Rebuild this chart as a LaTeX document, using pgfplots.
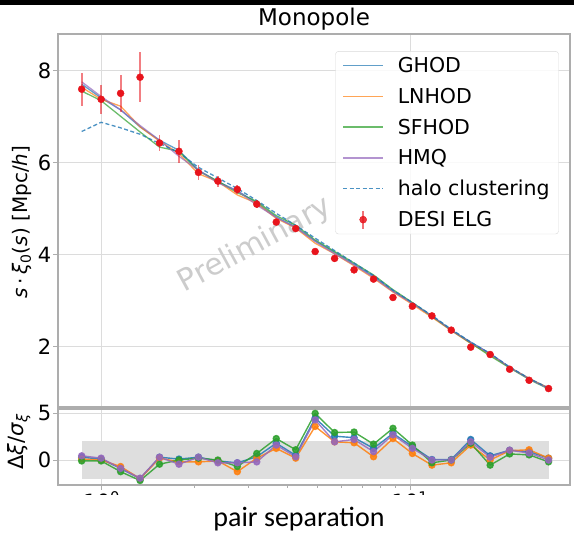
\documentclass[border=0pt]{standalone}
\usepackage{fontspec}
\setmainfont{DejaVu Sans}
\newfontfamily\capfont{Carlito}
\usepackage{pgfplots}
\usepackage{pgfplotstable}
\pgfplotsset{compat=1.18}

\definecolor{tabblue}{HTML}{1F77B4}
\definecolor{taborange}{HTML}{FF7F0E}
\definecolor{tabgreen}{HTML}{2CA02C}
\definecolor{tabpurple}{HTML}{9467BD}
\definecolor{elg}{HTML}{E8141C}
\definecolor{gridc}{HTML}{DCDCDC}
\definecolor{spine}{HTML}{ADADAD}
\definecolor{bandc}{HTML}{DEDEDE}

% s [Mpc/h], measured s*xi_0 with error, and the four model fits plus halo clustering
\pgfplotstableread{
s       y     e     ghod  lnhod sfhod hmq   halo
0.8612  7.60  0.36  7.71  7.64  7.56  7.76  6.68
0.9959  7.38  0.31  7.41  7.38  7.35  7.44  6.88
1.1517  7.51  0.40  7.15  7.23  7.01  7.15  6.76
1.3318  7.86  0.54  6.78  6.78  6.67  6.81  6.62
1.5402  6.43  0.18  6.49  6.47  6.34  6.49  6.42
1.7810  6.25  0.25  6.27  6.20  6.25  6.14  6.22
2.0596  5.79  0.16  5.84  5.76  5.82  5.84  5.90
2.3818  5.60  0.12  5.59  5.59  5.60  5.56  5.67
2.7542  5.42  0.10  5.39  5.30  5.35  5.39  5.44
3.1842  5.10  0.08  5.13  5.12  5.16  5.08  5.18
3.6833  4.71  0.06  4.82  4.79  4.85  4.81  4.90
4.2590  4.57  0.06  4.60  4.58  4.64  4.59  4.64
4.9249  4.07  0.05  4.30  4.25  4.32  4.29  4.36
5.6949  3.92  0.05  4.05  4.02  4.07  4.02  4.09
6.5857  3.67  0.05  3.79  3.76  3.82  3.78  3.82
7.6155  3.47  0.05  3.53  3.49  3.56  3.51  3.55
8.8066  3.07  0.05  3.21  3.19  3.24  3.20  3.23
10.18   2.88  0.05  2.95  2.92  2.96  2.94  2.96
11.78   2.67  0.05  2.67  2.64  2.66  2.67  2.68
13.61   2.36  0.05  2.36  2.35  2.36  2.36  2.38
15.74   1.99  0.05  2.10  2.07  2.08  2.09  2.10
18.20   1.83  0.05  1.85  1.83  1.80  1.85  1.85
21.05   1.51  0.04  1.55  1.55  1.54  1.55  1.56
24.34   1.27  0.04  1.31  1.31  1.29  1.30  1.31
28.15   1.09  0.04  1.10  1.10  1.08  1.09  1.10
}\monopole

% normalised residuals of each model
\pgfplotstableread{
s       rg     rl     rs     rh
0.8612  0.30   0.10  -0.10   0.45
0.9959  0.10   0.00  -0.10   0.20
1.1517 -0.90  -0.70  -1.25  -0.90
1.3318 -2.00  -2.00  -2.20  -1.95
1.5402  0.30   0.20  -0.45   0.30
1.7810  0.10  -0.20   0.00  -0.45
2.0596  0.30  -0.20   0.20   0.30
2.3818 -0.10  -0.10   0.00  -0.30
2.7542 -0.30  -1.25  -0.70  -0.30
3.1842  0.35   0.20   0.70  -0.20
3.6833  1.80   1.25   2.30   1.60
4.2590  0.50   0.20   1.10   0.35
4.9249  4.50   3.60   5.00   4.30
5.6949  2.55   1.95   2.95   1.95
6.5857  2.40   1.85   3.00   2.20
7.6155  1.25   0.35   1.70   0.90
8.8066  2.85   2.30   3.40   2.70
10.18   1.45   0.70   1.60   1.25
11.78   0.05  -0.55  -0.30   0.00
13.61   0.05  -0.30   0.00   0.00
15.74   2.20   1.60   1.80   1.95
18.20   0.45   0.00  -0.55   0.30
21.05   1.05   1.00   0.65   1.05
24.34   0.90   1.10   0.55   0.75
28.15   0.20   0.20  -0.20   0.00
}\resid

\begin{document}
\begin{tikzpicture}[x=1pt,y=1pt]
\useasboundingbox (0,0) rectangle (574,-534);
\fill[black] (0,0) rectangle (574,-5);

% upper panel: monopole
\begin{axis}[
  at={(58pt,-407pt)}, anchor=south west,
  scale only axis, width=512pt, height=373pt,
  xmode=log, xmin=0.7216, xmax=33.04,
  ymin=0.689, ymax=8.80, ytick={2,4,6,8},
  xtick={1,10}, xticklabels={}, xminorticks=false,
  grid=major,
  major grid style={color=gridc, line width=0.8pt},
  axis line style={color=spine, line width=1.2pt},
  tick style={color=spine, line width=0.9pt},
  tick align=outside, major tick length=5pt,
  xtick pos=bottom, ytick pos=left,
  /pgf/number format/assume math mode=true,
  ticklabel style={font=\fontsize{21}{24}\selectfont},
  yticklabel style={inner sep=1.5pt},
  title={Monopole},
  title style={at={(axis description cs:0.5,1)}, anchor=base, yshift=2pt, font=\fontsize{23}{27}\selectfont},
  ylabel={\textit{s}\,·\,\textit{ξ}\textsubscript{0}(\textit{s}) [Mpc/\textit{h}]},
  ylabel style={at={(axis description cs:-0.0703,0.496)}, rotate=0, anchor=center, font=\fontsize{20}{24}\selectfont},
  legend cell align=left,
  legend style={at={(axis description cs:0.978,0.954)}, anchor=north east,
    draw=gray!30, rounded corners=3pt, fill=white, fill opacity=0.85, text opacity=1,
    font=\fontsize{20.5}{24}\selectfont, row sep=10pt, column sep=12pt,
    inner xsep=7pt, inner ysep=4pt},
  legend image code/.code={\draw[#1] (0pt,0pt) -- (40pt,0pt);},
]
\node[rotate=28.5, text=gray!40, font=\fontsize{30}{30}\selectfont]
  at (axis description cs:0.385,0.434) {Preliminary};

\addplot[tabblue, line width=1.3pt, opacity=0.7] table[x=s, y=ghod] {\monopole};
\addlegendentry{GHOD}
\addplot[taborange, line width=1.3pt, opacity=0.7] table[x=s, y=lnhod] {\monopole};
\addlegendentry{LNHOD}
\addplot[tabgreen, line width=1.3pt, opacity=0.7] table[x=s, y=sfhod] {\monopole};
\addlegendentry{SFHOD}
\addplot[tabpurple, line width=1.3pt, opacity=0.7] table[x=s, y=hmq] {\monopole};
\addlegendentry{HMQ}
\addplot[tabblue, line width=1.3pt, opacity=0.8, dash pattern=on 4pt off 2.5pt] table[x=s, y=halo] {\monopole};
\addlegendentry{halo clustering}
\addplot[only marks, mark=*, mark size=3.5pt, color=elg,
  legend image code/.code={
    \draw[elg, line width=1.6pt, opacity=0.6] (20pt,-9pt) -- (20pt,9pt);
    \fill[elg] (20pt,0pt) circle (3.5pt);},
  error bars/.cd, y dir=both, y explicit, error mark=none,
  error bar style={line width=1.8pt, color=elg, opacity=0.55}]
  table[x=s, y=y, y error=e] {\monopole};
\addlegendentry{DESI ELG}
\end{axis}

% lower panel: normalised residuals
\begin{axis}[
  at={(58pt,-485pt)}, anchor=south west,
  scale only axis, width=512pt, height=76pt,
  xmode=log, xmin=0.7216, xmax=33.04,
  ymin=-2.68, ymax=5.47, ytick={0,5},
  xtick={1,10}, xticklabels={10\textsuperscript{0},10\textsuperscript{1}},
  xticklabel style={yshift=2pt},
  grid=major,
  major grid style={color=gridc, line width=0.8pt},
  axis line style={color=spine, line width=1.2pt},
  tick style={color=spine, line width=0.9pt},
  tick align=outside, major tick length=5pt, minor tick length=3pt,
  xtick pos=bottom, ytick pos=left,
  /pgf/number format/assume math mode=true,
  ticklabel style={font=\fontsize{21}{24}\selectfont},
  yticklabel style={inner sep=1.5pt},
  ylabel={Δ\textit{ξ}/\textit{σ}\textsubscript{\textit{ξ}}},
  ylabel style={at={(axis description cs:-0.0762,0.566)}, rotate=0, anchor=center, font=\fontsize{21}{24}\selectfont},
]
\addplot[draw=none, fill=bandc] coordinates {(0.8612,-2) (28.15,-2) (28.15,2) (0.8612,2)} -- cycle;
\addplot[tabblue, line width=1.4pt, opacity=0.85, mark=*, mark size=3pt] table[x=s, y=rg] {\resid};
\addplot[taborange, line width=1.4pt, opacity=0.85, mark=*, mark size=3pt] table[x=s, y=rl] {\resid};
\addplot[tabgreen, line width=1.4pt, opacity=0.85, mark=*, mark size=3pt] table[x=s, y=rs] {\resid};
\addplot[tabpurple, line width=1.4pt, opacity=0.85, mark=*, mark size=3pt] table[x=s, y=rh] {\resid};
\end{axis}

\fill[white] (30,-495) rectangle (574,-534);
\node[anchor=base, font=\capfont\fontsize{28}{32}\selectfont] at (299,-527) {pair separation};
\end{tikzpicture}
\end{document}
